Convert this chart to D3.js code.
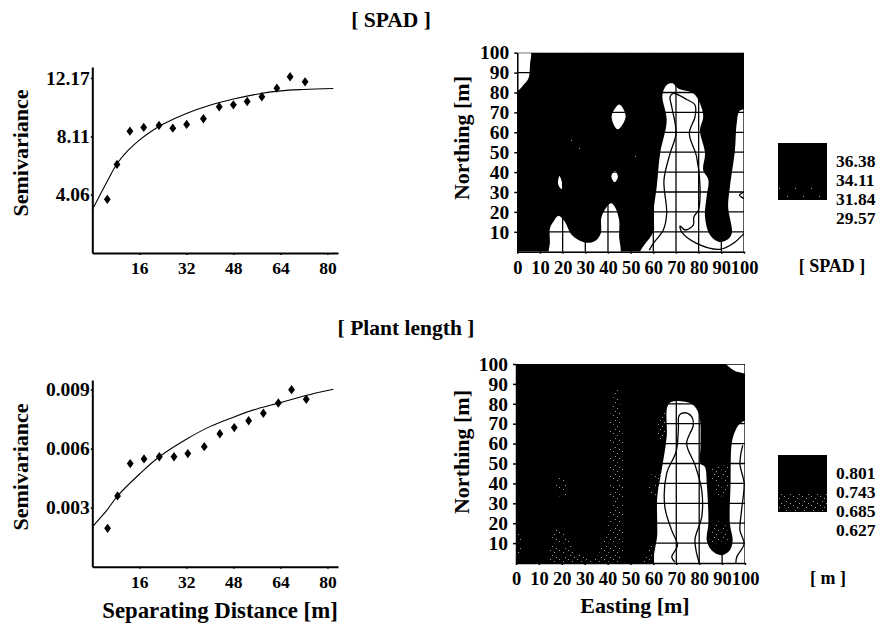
<!DOCTYPE html>
<html>
<head>
<meta charset="utf-8">
<style>
  html, body { margin: 0; background: #fff; }
  text { font-family: "Liberation Serif", serif; font-weight: bold; fill: #000; }
  .tick text { font-size: 17.5px; }
  .y-ticks .tick text { font-size: 19.5px; }
  .map-ticks .tick text { font-size: 18.5px; }
  .axis-title { font-size: 22px; }
  .wide-title { font-size: 22.8px; }
  .head { font-size: 21.5px; }
  .unit { font-size: 18px; }
  .legend-label { font-size: 17.5px; }
  .domain { stroke: #000; }
</style>
<script src="https://cdn.jsdelivr.net/npm/d3@7"></script>
</head>
<body>
<svg id="chart" width="884" height="624"></svg>
<script>
// Variogram values
var spadLag = [5.1, 8.4, 12.8, 17.5, 22.7, 27.4, 32.1, 37.8, 43.2, 48, 52.7, 57.7, 62.8, 67.3, 72.4]
var spadGamma = [3.73, 6.16, 8.47, 8.73, 8.87, 8.68, 8.94, 9.33, 10.16, 10.3, 10.53, 10.86, 11.46, 12.25, 11.9]
var spadFitLag = [0, 5, 8.4, 12, 16, 20, 24, 32, 40, 48, 56, 64, 72, 82]
var spadFit = [3, 4.95, 6.2, 7.1, 7.85, 8.45, 8.95, 9.7, 10.27, 10.7, 11.04, 11.27, 11.37, 11.44]
var spadTicks = [4.06, 8.11, 12.17]

var lengthLag = [5.2, 8.6, 12.9, 17.6, 22.8, 27.8, 32.5, 38.1, 43.4, 48.3, 53.2, 58.2, 63.3, 67.8, 72.8]
var lengthGamma = [0.00195, 0.0036, 0.00524, 0.00548, 0.00559, 0.00559, 0.00575, 0.0061, 0.00676, 0.00707, 0.00742, 0.0078, 0.00832, 0.009, 0.00851]
var lengthFitLag = [0, 5, 8.6, 16, 22.8, 32, 40, 48, 56, 64, 72, 82]
var lengthFit = [0.00203, 0.00288, 0.0036, 0.0047, 0.00559, 0.00648, 0.00712, 0.0076, 0.00802, 0.00834, 0.00868, 0.00902]
var lengthTicks = [0.003, 0.006, 0.009]

var lagTicks = [16, 32, 48, 64, 80]
var fieldTicks = [10, 20, 30, 40, 50, 60, 70, 80, 90, 100]
var eastingTicks = [0, 10, 20, 30, 40, 50, 60, 70, 80, 90, 100]

// Map outlines as [easting, northing] pairs, lowest class
var spadLow = [
  [[0, 80.4], [2.5, 83.5], [4.9, 87], [5.6, 94], [5.6, 102], [-2, 102], [-2, 79]],
  [[45, 74], [47.8, 68], [44.3, 61.5], [41.6, 68]],
  [[18.6, 38], [20, 33], [19.5, 31.5], [18, 34]],
  [[43, 40.5], [44.4, 37.7], [43, 35], [41.5, 37.7]],
  [[14.4, -2], [14.4, 5], [14.4, 11.7], [15.9, 15], [18, 18], [21, 15], [23.5, 9.2], [27, 5.9], [30.6, 4.5], [34.3, 5.4], [36.8, 9.2], [37.2, 17.6], [41.2, 24.3], [43, 22.6], [44.9, 16], [44.9, 8], [44.9, -2], [30, -3]],
  [[54, -2], [59.3, 8.4], [60.3, 10.9], [60, 19], [61.5, 32.7], [63, 49.4], [65.9, 66], [64, 78.7], [65.9, 83.8], [68.4, 84.6], [71, 82], [77.6, 79.6], [80.6, 74.5], [82, 67.8], [80.6, 61], [82.8, 49.4], [82, 41], [84.3, 36], [83.5, 27.6], [82.8, 17.6], [85, 8.4], [88.7, 5], [92.4, 5.9], [94.6, 9.2], [93, 22.6], [93.8, 32.7], [96, 51], [96.8, 64.5], [98.2, 70.9], [102, 71], [103, 35], [102, -2], [80, -3]]
]
var spadLines = [
  [[58.2, 0.8], [60, 4.2], [64.4, 10.9], [65.9, 19.3], [64.7, 36], [67.4, 49.4], [70, 59.5], [68.1, 72.9], [67.4, 77.9], [68.8, 79.6], [74.7, 76.5], [78.4, 73.7], [78.4, 67.8], [75.9, 59.5], [79.1, 47.7], [80.6, 32.7], [79.9, 20.9], [77.9, 17.6], [77.6, 13.4], [74, 10.9], [71.8, 12.9], [72.5, 10], [79.1, 4.2], [89.4, 1.2], [95.3, 4.2], [100, 9.2]],
  [[100, 30], [98, 28.5], [100, 26.7]]
]
var spadSpeckle = [
  [[22, 50], [24, 62], [29, 60], [30, 48]],
  [[50, 44], [52, 52], [54, 50], [53, 42]],
  [[3, 8], [4, 10], [6, 10], [6, 7]]
]

var lengthLow = [
  [[61.1, -2], [61.7, 14.8], [61.7, 33.2], [63.6, 46.6], [65.8, 63.4], [66.1, 78.5], [68, 81], [73.8, 81], [77.4, 79.4], [80, 74.3], [80.6, 60], [80.6, 50], [82.5, 48.3], [83.3, 40], [84, 19.8], [83.3, 11.4], [85.4, 6.4], [89.8, 3.9], [93.4, 6.4], [94.6, 11.4], [93.4, 19.8], [93.7, 40], [94.2, 60], [95.6, 66], [97.8, 70], [102, 71.5], [103, 35], [102, -2], [80, -3]],
  [[90.5, 102], [94.9, 97], [97, 96], [102, 95.6], [102, 102]]
]
var lengthLines = [
  [[69.4, 0.5], [68, 3], [70.5, 8.9], [68, 16.4], [65, 28.2], [65.8, 45], [69.9, 55.9], [70.9, 66.8], [71.3, 74.3], [73.8, 75.5], [76.7, 73.5], [77.4, 69.3], [74.5, 60], [78.2, 49.2], [81.1, 36.6], [81.1, 23.2], [78.2, 12.2], [78.6, 6.4], [80, 0]],
  [[99, 59.2], [97.8, 50], [99.6, 40], [98.5, 26.5], [97.8, 16.4], [99.6, 9.7], [96.4, 3], [96, 0]]
]
var lengthSpeckle = [
  [[14.5, 0], [15, 8], [18, 19], [22, 15], [25, 7], [30, 3], [35, 3], [38, 10], [40, 20], [41, 45], [41, 72], [44, 88], [46, 75], [47, 45], [47, 20], [45, 0]],
  [[18, 34], [18.5, 43], [22, 43], [22, 34]],
  [[56, 0], [58, 7], [60, 9], [60.5, 0]],
  [[58, 35], [60, 46], [63, 46], [61.5, 33]],
  [[62, 62], [63, 75], [65.5, 75], [65, 62]],
  [[85, 10], [86, 20], [91, 20], [92, 10]],
  [[88, 33], [86, 48], [93, 48], [91, 33]],
  [[0, 3], [0, 15], [2, 15], [2, 3]]
]

// Legend classes and break labels
var spadClasses = ['full', 'full', 'sparse']
var spadBreaks = ['36.38', '34.11', '31.84', '29.57']
var lengthClasses = ['full', 'full', 'speckle']
var lengthBreaks = ['0.801', '0.743', '0.685', '0.627']

var svg = d3.select('#chart')
var defs = svg.append('defs')

// Dither patterns for the middle class
addPattern('speckle', 9, [[1, 1], [5, 3], [3, 6], [7, 8]])
addPattern('sparse', 16, [[3, 4], [11, 12]])

function addPattern (id, size, dots) {
  var pattern = defs.append('pattern')
    .attr('id', id)
    .attr('patternUnits', 'userSpaceOnUse')
    .attr('width', size)
    .attr('height', size)

  pattern.append('rect')
    .attr('width', size)
    .attr('height', size)
    .attr('fill', '#000')

  pattern.selectAll('rect.dot')
    .data(dots)
    .enter()
    .append('rect')
    .attr('class', 'dot')
    .attr('x', function (d) { return d[0] })
    .attr('y', function (d) { return d[1] })
    .attr('width', 1)
    .attr('height', 1)
    .attr('fill', '#999')
}

function drawVariogram (conf) {
  var x = d3.scaleLinear().domain([0, 83.6]).range([92.3, 338])
  var y = d3.scaleLinear().domain(conf.domain).range([conf.bottom, conf.top])
  var g = svg.append('g')

  // Axes
  g.append('g')
    .attr('transform', 'translate(0,' + conf.bottom + ')')
    .call(d3.axisBottom(x).tickValues(lagTicks).tickSize(2).tickSizeOuter(0).tickPadding(7))
    .call(styleAxis, 2)

  g.append('g')
    .attr('class', 'y-ticks')
    .attr('transform', 'translate(92.3,0)')
    .call(d3.axisLeft(y).tickValues(conf.ticks).tickFormat(conf.format).tickSize(1.5).tickSizeOuter(0).tickPadding(1))
    .call(styleAxis, 2)

  // Fitted model
  var fit = d3.line()
    .x(function (d, i) { return x(conf.fitLag[i]) })
    .y(function (d) { return y(d) })
    .curve(d3.curveCatmullRom.alpha(0.5))

  g.append('path')
    .attr('d', fit(conf.fit))
    .attr('fill', 'none')
    .attr('stroke', '#000')
    .attr('stroke-width', 1.1)

  // Experimental points
  g.selectAll('path.point')
    .data(conf.gamma)
    .enter()
    .append('path')
    .attr('class', 'point')
    .attr('d', d3.symbol(d3.symbolDiamond, 28))
    .attr('transform', function (d, i) {
      return 'translate(' + x(conf.lag[i]) + ',' + y(d) + ') scale(1.2,0.95)'
    })

  g.append('text')
    .attr('class', 'axis-title')
    .attr('text-anchor', 'middle')
    .attr('transform', 'translate(28,' + conf.titleY + ') rotate(-90)')
    .text('Semivariance')
}

function styleAxis (sel, width) {
  sel.select('.domain').attr('stroke-width', width)
  sel.selectAll('.tick line').attr('stroke', '#000').attr('stroke-width', 1.5)
  sel.selectAll('.tick text').attr('fill', '#000')
  sel.attr('font-family', null).attr('font-size', null)
}

function drawMap (conf) {
  var x = d3.scaleLinear().domain([0, 100]).range(conf.xRange)
  var y = d3.scaleLinear().domain([0, 100]).range(conf.yRange)
  var g = svg.append('g')

  var clip = defs.append('clipPath').attr('id', conf.id)
  clip.append('rect')
    .attr('x', x(0))
    .attr('y', y(100))
    .attr('width', x(100) - x(0))
    .attr('height', y(0) - y(100))

  var closed = d3.line()
    .x(function (d) { return x(d[0]) })
    .y(function (d) { return y(d[1]) })
    .curve(d3.curveCatmullRomClosed.alpha(0.5))

  var open = d3.line()
    .x(function (d) { return x(d[0]) })
    .y(function (d) { return y(d[1]) })
    .curve(d3.curveCatmullRom.alpha(0.5))

  var plot = g.append('g').attr('clip-path', 'url(#' + conf.id + ')')

  // Top class
  plot.append('rect')
    .attr('x', x(0))
    .attr('y', y(100))
    .attr('width', x(100) - x(0))
    .attr('height', y(0) - y(100))
    .attr('fill', '#000')

  // Middle class
  plot.selectAll('path.mid')
    .data(conf.speckle)
    .enter()
    .append('path')
    .attr('class', 'mid')
    .attr('d', closed)
    .attr('fill', 'url(#' + conf.pattern + ')')

  // Lowest class
  plot.selectAll('path.low')
    .data(conf.low)
    .enter()
    .append('path')
    .attr('class', 'low')
    .attr('d', closed)
    .attr('fill', '#fff')

  // Grid
  plot.selectAll('line.grid-x')
    .data(eastingTicks)
    .enter()
    .append('line')
    .attr('class', 'grid-x')
    .attr('x1', function (d) { return x(d) })
    .attr('x2', function (d) { return x(d) })
    .attr('y1', y(0))
    .attr('y2', y(100))
    .attr('stroke', '#000')
    .attr('stroke-width', 1.3)

  plot.selectAll('line.grid-y')
    .data(fieldTicks)
    .enter()
    .append('line')
    .attr('class', 'grid-y')
    .attr('x1', x(0))
    .attr('x2', x(100))
    .attr('y1', function (d) { return y(d) })
    .attr('y2', function (d) { return y(d) })
    .attr('stroke', '#000')
    .attr('stroke-width', 1.3)

  // Contour lines
  plot.selectAll('path.contour')
    .data(conf.lines)
    .enter()
    .append('path')
    .attr('class', 'contour')
    .attr('d', open)
    .attr('fill', 'none')
    .attr('stroke', '#000')
    .attr('stroke-width', 1.3)

  // Axes
  g.append('g')
    .attr('class', 'map-ticks')
    .attr('transform', 'translate(0,' + y(0) + ')')
    .call(d3.axisBottom(x).tickValues(eastingTicks).tickSize(2).tickSizeOuter(0).tickPadding(7))
    .call(styleAxis, 1.5)

  g.append('g')
    .attr('class', 'y-ticks')
    .attr('transform', 'translate(' + x(0) + ',0)')
    .call(d3.axisLeft(y).tickValues(fieldTicks).tickSize(3).tickSizeOuter(0).tickPadding(5))
    .call(styleAxis, 1.5)

  g.append('text')
    .attr('class', 'axis-title')
    .attr('text-anchor', 'middle')
    .attr('transform', 'translate(469,' + conf.titleY + ') rotate(-90)')
    .text('Northing [m]')

  // Legend
  var band = d3.scaleBand()
    .domain(d3.range(conf.classes.length))
    .range(conf.legendRange)

  g.selectAll('rect.swatch')
    .data(conf.classes)
    .enter()
    .append('rect')
    .attr('class', 'swatch')
    .attr('x', 778)
    .attr('y', function (d, i) { return band(i) })
    .attr('width', 49)
    .attr('height', band.bandwidth())
    .attr('fill', function (d) { return d === 'full' ? '#000' : 'url(#' + d + ')' })

  g.selectAll('text.legend-label')
    .data(conf.breaks)
    .enter()
    .append('text')
    .attr('class', 'legend-label')
    .attr('x', 836)
    .attr('y', function (d, i) { return conf.legendBase[i] })
    .text(function (d) { return d })

  g.append('text')
    .attr('class', 'unit')
    .attr('text-anchor', 'middle')
    .attr('x', conf.unitX)
    .attr('y', conf.unitY)
    .text(conf.unit)
}

drawVariogram({
  lag: spadLag,
  gamma: spadGamma,
  fitLag: spadFitLag,
  fit: spadFit,
  ticks: spadTicks,
  format: d3.format('.2f'),
  domain: [0, 12.93],
  top: 67,
  bottom: 253,
  titleY: 153
})

drawVariogram({
  lag: lengthLag,
  gamma: lengthGamma,
  fitLag: lengthFitLag,
  fit: lengthFit,
  ticks: lengthTicks,
  format: d3.format('.3f'),
  domain: [0, 0.00949],
  top: 380,
  bottom: 566.7,
  titleY: 467
})

drawMap({
  id: 'clip-spad',
  xRange: [517.3, 744],
  yRange: [251.7, 52.7],
  low: spadLow,
  lines: spadLines,
  speckle: spadSpeckle,
  pattern: 'sparse',
  classes: spadClasses,
  breaks: spadBreaks,
  legendRange: [143, 200],
  legendBase: [167, 186, 205, 224],
  unit: '[ SPAD ]',
  unitX: 832,
  unitY: 272,
  titleY: 138
})

drawMap({
  id: 'clip-length',
  xRange: [516, 745],
  yRange: [563, 364],
  low: lengthLow,
  lines: lengthLines,
  speckle: lengthSpeckle,
  pattern: 'speckle',
  classes: lengthClasses,
  breaks: lengthBreaks,
  legendRange: [455, 512],
  legendBase: [479, 498, 517, 536],
  unit: '[ m ]',
  unitX: 828,
  unitY: 584,
  titleY: 452
})

// Headings and shared x titles
svg.append('text').attr('class', 'head').attr('text-anchor', 'middle')
  .attr('x', 391).attr('y', 27).text('[ SPAD ]')

svg.append('text').attr('class', 'head').attr('text-anchor', 'middle')
  .attr('x', 406).attr('y', 335).text('[ Plant length ]')

svg.append('text').attr('class', 'wide-title').attr('text-anchor', 'middle')
  .attr('x', 220).attr('y', 618).text('Separating Distance [m]')

svg.append('text').attr('class', 'axis-title').attr('text-anchor', 'middle')
  .attr('x', 635).attr('y', 613).text('Easting [m]')
</script>
</body>
</html>
